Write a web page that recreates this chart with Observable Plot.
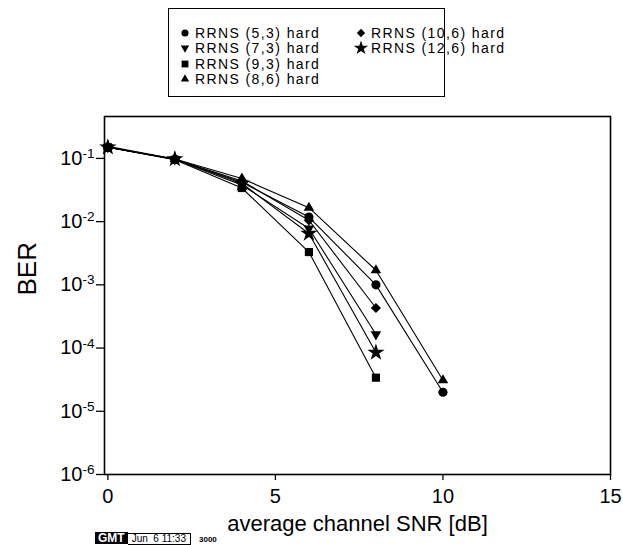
<!DOCTYPE html>
<html>
<head>
<meta charset="utf-8">
<script src="https://cdn.jsdelivr.net/npm/d3@7"></script>
<script src="https://cdn.jsdelivr.net/npm/@observablehq/plot@0.6"></script>
<style>
  html, body { margin: 0; padding: 0; background: #fff; }
  #wrap { position: relative; width: 623px; height: 545px; font-family: "Liberation Sans", Arial, sans-serif; }
  #legend { position: absolute; left: 168px; top: 8px; width: 277px; height: 89px; border: 1.3px solid #000; box-sizing: border-box; background: #fff; }
  .entry { position: absolute; font-size: 14px; letter-spacing: 1.4px; line-height: 14px; height: 14px; white-space: nowrap; color: #000; }
  .entry svg { position: absolute; }
  #stamp { position: absolute; left: 95px; top: 532px; font-family: "Liberation Sans", Arial, sans-serif; font-size: 9px; line-height: 11px; white-space: nowrap; }
  #stamp .gmt { background: #000; color: #fff; font-weight: bold; font-size: 12px; padding: 0 3px; display: inline-block; height: 12px; line-height: 12px; }
  #stamp .date { border: 1px solid #000; border-left: none; padding: 0 4px; display: inline-block; height: 10px; line-height: 10px; font-size: 10px; }
  #stamp .num { font-weight: bold; margin-left: 8px; font-size: 8px; }
</style>
</head>
<body>
<div id="wrap"></div>
<script>
// ---- data ----
const snr = [0, 2, 4, 6, 8, 10];
const seriesNames = ["RRNS (5,3) hard", "RRNS (7,3) hard", "RRNS (9,3) hard", "RRNS (8,6) hard", "RRNS (10,6) hard", "RRNS (12,6) hard"];
const rrns53 = [0.15, 0.097, 0.042, 0.0118, 0.0010, 2.0e-5];
const rrns73 = [0.15, 0.096, 0.038, 0.0078, 0.000165];
const rrns93 = [0.15, 0.095, 0.034, 0.0033, 3.4e-5];
const rrns86 = [0.155, 0.098, 0.048, 0.0166, 0.0017, 3.1e-5];
const rrns106 = [0.15, 0.097, 0.044, 0.0105, 0.00043];
const rrns126 = [0.15, 0.098, 0.040, 0.0065, 8.5e-5];
const xTicks = [0, 5, 10, 15];
const yTicks = [1e-1, 1e-2, 1e-3, 1e-4, 1e-5, 1e-6];

const allSeries = [rrns53, rrns73, rrns93, rrns86, rrns106, rrns126];
const data = allSeries.flatMap((vals, i) => vals.map((v, j) => ({series: seriesNames[i], snr: snr[j], ber: v})));

// custom downward triangle
const triangleDown = {
  draw(ctx, size) {
    const y = -Math.sqrt(size / (Math.sqrt(3) * 3));
    ctx.moveTo(0, -y * 2);
    ctx.lineTo(-Math.sqrt(3) * y, y);
    ctx.lineTo(Math.sqrt(3) * y, y);
    ctx.closePath();
  }
};
const symbolRange = [d3.symbolCircle, triangleDown, d3.symbolSquare, d3.symbolTriangle, d3.symbolDiamond2, d3.symbolStar];
const markerR = [4.6, 3.9, 4.6, 3.9, 4.6, 5.4];
const legendSize = [40, 30, 46, 30, 44, 64];
const rBySeries = Object.fromEntries(seriesNames.map((n, i) => [n, markerR[i]]));

const font = '"Liberation Sans", Arial, sans-serif';

const chart = Plot.plot({
  width: 623,
  height: 545,
  marginLeft: 104,
  marginRight: 13,
  marginTop: 116,
  marginBottom: 71,
  style: {fontFamily: font, background: "#fff", color: "#000"},
  x: {domain: [-0.1, 15], label: null},
  y: {type: "log", domain: [1e-6, 0.46], label: null},
  r: {type: "identity"},
  symbol: {domain: seriesNames, range: symbolRange},
  marks: [
    Plot.frame({stroke: "#000", strokeWidth: 1.6}),
    Plot.axisX({ticks: xTicks, tickFormat: d => String(d), tickSize: 6, tickPadding: 8, fontSize: 20, strokeWidth: 1.3, label: null}),
    Plot.axisY({ticks: yTicks, tickFormat: d => "10^" + Math.round(Math.log10(d)), tickSize: 8, tickPadding: 2, fontSize: 20, strokeWidth: 1.3, label: null}),
    Plot.line(data, {x: "snr", y: "ber", z: "series", stroke: "#000", strokeWidth: 1.1}),
    Plot.dot(data, {x: "snr", y: "ber", symbol: "series", fill: "#000", stroke: "none", r: d => rBySeries[d.series]}),
    Plot.text(["average channel SNR [dB]"], {frameAnchor: "bottom", dy: 56, fontSize: 22, text: d => d}),
    Plot.text(["BER"], {frameAnchor: "left", dx: -77, rotate: -90, fontSize: 26, text: d => d})
  ]
});

// superscripts for y tick labels
d3.select(chart).selectAll("[aria-label='y-axis tick label'] text").each(function() {
  const t = this.textContent;
  if (!t.startsWith("10^")) return;
  const exp = t.slice(3);
  const sel = d3.select(this);
  sel.text(null);
  sel.append("tspan").text("10");
  sel.append("tspan").attr("dy", "-0.5em").attr("font-size", "0.68em").text(exp);
});

const wrap = document.getElementById("wrap");
wrap.appendChild(chart);

// legend
const legend = document.createElement("div");
legend.id = "legend";
wrap.appendChild(legend);
const legendPos = [
  [14, 24], [14, 39], [14, 55], [14, 70],
  [190, 24], [190, 39]
];
seriesNames.forEach((name, i) => {
  const e = document.createElement("div");
  e.className = "entry";
  const [lx, ly] = legendPos[i];
  e.style.left = (lx + 12) + "px";
  e.style.top = (ly - 7) + "px";
  e.textContent = name;
  const ns = "http://www.w3.org/2000/svg";
  const s = document.createElementNS(ns, "svg");
  s.setAttribute("width", 18); s.setAttribute("height", 18);
  s.style.left = "-19px"; s.style.top = "-2px";
  const p = document.createElementNS(ns, "path");
  p.setAttribute("d", d3.symbol().type(symbolRange[i]).size(legendSize[i])());
  p.setAttribute("transform", "translate(9,9)");
  p.setAttribute("fill", "#000");
  s.appendChild(p);
  e.appendChild(s);
  legend.appendChild(e);
});

// stamp
const stamp = document.createElement("div");
stamp.id = "stamp";
stamp.innerHTML = '<span class="gmt">GMT</span><span class="date">Jun&nbsp;&nbsp;6 11:33</span><span class="num">3000</span>';
wrap.appendChild(stamp);
</script>
</body>
</html>
